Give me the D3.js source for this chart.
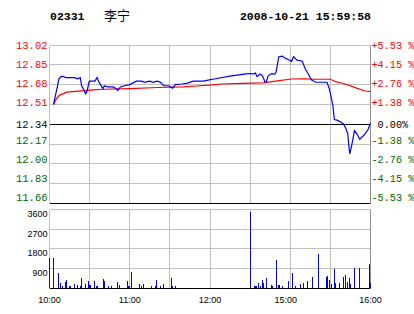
<!DOCTYPE html>
<html><head><meta charset="utf-8">
<script src="https://cdn.jsdelivr.net/npm/d3@7"></script>
<style>html,body{margin:0;padding:0;background:#fff;overflow:hidden}</style>
</head><body>
<svg id="c" width="414" height="314"></svg>
<script>
// ---- data ----
const stockCode = "02331";
const stockName = "李宁";
const stamp = "2008-10-21 15:59:58";
const preClose = 12.34;
const priceTicks = [13.02, 12.85, 12.68, 12.51, 12.34, 12.17, 12.00, 11.83, 11.66];
const pctLabels = ["+5.53 %", "+4.15 %", "+2.76 %", "+1.38 %", " 0.00%", "-1.38 %", "-2.76 %", "-4.15 %", "-5.53 %"];
const volTicks = [900, 1800, 2700, 3600];
const timeTicks = [0, 60, 120, 180, 240];          // trading minutes since 10:00
const timeLabels = ["10:00", "11:00", "12:00", "15:00", "16:00"];
const gridMinutes = [0, 30, 60, 90, 120, 150, 180, 210, 240];

// price line (trading minute, price)
const priceMin = [3,4.5,6,7,8.8,10,12,18.75,21,23,24,26,27,28,29.5,30,34,35.5,37.5,40,41,43.5,47.5,50,51,53,56,60,65,69,71,75,77.5,80.5,83,85.5,89,92,94,99,102.5,107.5,115,119.5,124,136,148.5,150.75,152,154,155,156,157,159,160,161,162,163.5,166,168.5,169.5,170.5,171.5,174,176.5,178.5,181,182.5,185,187.5,189,191,194,196,199,207.5,209,210,211,212,212.5,213,215,217.5,220,221.5,223,223.5,224.5,225.5,226.5,228,230,232,235,238,240];
const priceVal = [12.51,12.59,12.67,12.73,12.75,12.75,12.74,12.74,12.73,12.74,12.67,12.63,12.60,12.62,12.70,12.71,12.71,12.74,12.69,12.645,12.67,12.66,12.66,12.645,12.63,12.66,12.67,12.68,12.71,12.71,12.70,12.71,12.70,12.71,12.70,12.67,12.67,12.65,12.68,12.685,12.69,12.71,12.71,12.72,12.73,12.755,12.775,12.775,12.77,12.78,12.75,12.755,12.77,12.76,12.735,12.705,12.70,12.755,12.775,12.77,12.79,12.86,12.92,12.925,12.905,12.895,12.88,12.92,12.89,12.885,12.88,12.82,12.76,12.72,12.70,12.70,12.65,12.605,12.55,12.49,12.435,12.38,12.375,12.36,12.34,12.305,12.26,12.19,12.085,12.135,12.19,12.285,12.255,12.21,12.245,12.29,12.35];

// average price line
const avgMin = [3,5,7.5,10,13,17.5,28.7,32.5,40,60,81,100,110,119.5,129,144,160,169,181,191,199,210,214,217.5,223.5,230,236,240];
const avgVal = [12.51,12.555,12.59,12.60,12.615,12.62,12.63,12.635,12.64,12.645,12.655,12.66,12.668,12.675,12.685,12.69,12.695,12.71,12.728,12.73,12.726,12.726,12.705,12.696,12.677,12.648,12.625,12.62];

// volume bars
const volMin = [0,3,7,8,10,12,13,15,16,19,21,23,24,27,29,30,31,34,35,36,40,41,44,46,51,52,58,59,60,61,67,69,70,76,79,80,83,85,91,92,94,
  150,153,154,155,156,158,159,160,162,166,167,170,171,172,174,179,182,184,188,190,193,197,201,207,208,209,211,213,214,217,220,221,223,224,225,228,232,239,240];
const volVal = [1400,1400,700,240,105,290,380,105,105,195,150,105,470,195,335,150,150,335,105,105,425,335,105,105,290,150,335,105,105,745,195,105,195,105,105,380,105,195,470,105,105,
  3490,105,105,105,240,105,380,240,470,150,105,1290,150,150,105,335,700,105,195,240,335,515,1565,515,560,380,195,880,240,240,515,605,290,470,195,925,925,1110,240];

// ---- chart ----
const svg = d3.select("#c");
const x = d3.scaleLinear().domain([0, 240]).range([49.5, 370.5]);
const y = d3.scaleLinear().domain([11.66, 13.02]).range([203.4, 45]);
const yLab = d3.scaleLinear().domain([11.66, 13.02]).range([197.5, 45.2]);
const v = d3.scaleLinear().domain([0, 3600]).range([288.4, 209.3]);
const px = d => Math.floor(d) + 0.5;

const GRID = "#c0c0c0", RED = "#ff0000", GREEN = "#006400";
const mono = "'Liberation Mono', 'Courier New', monospace";
const sans = "'Liberation Sans', Arial, sans-serif";

// header
svg.append("text").attr("x", 50).attr("y", 20).attr("font-family", mono).attr("font-weight", "bold")
  .attr("font-size", 11.5).attr("fill", "#000").text(stockCode);
svg.append("text").attr("x", 104).attr("y", 20).attr("font-family", "'Noto Sans CJK SC', sans-serif")
  .attr("font-size", 13).attr("fill", "#000").text(stockName);
svg.append("text").attr("x", 371).attr("y", 20).attr("text-anchor", "end").attr("font-family", mono).attr("font-weight", "bold")
  .attr("font-size", 11.5).attr("fill", "#000").text(stamp);

// price panel grid
const g = svg.append("g").attr("shape-rendering", "crispEdges");
g.selectAll(".vgp").data(gridMinutes).join("line")
  .attr("x1", d => px(x(d))).attr("x2", d => px(x(d)))
  .attr("y1", px(y(13.02))).attr("y2", px(y(11.66)))
  .attr("stroke", GRID);
g.selectAll(".hgp").data(priceTicks).join("line")
  .attr("x1", px(x(0))).attr("x2", px(x(240)))
  .attr("y1", d => px(y(d))).attr("y2", d => px(y(d)))
  .attr("stroke", d => (d === preClose || d === 11.66) ? "#000" : GRID);
// volume grid
g.selectAll(".vgv").data(gridMinutes).join("line")
  .attr("x1", d => px(x(d))).attr("x2", d => px(x(d)))
  .attr("y1", px(v(3600))).attr("y2", px(v(0)))
  .attr("stroke", GRID);
g.selectAll(".hgv").data([0].concat(volTicks)).join("line")
  .attr("x1", px(x(0))).attr("x2", px(x(240)))
  .attr("y1", d => px(v(d))).attr("y2", d => px(v(d)))
  .attr("stroke", d => d === 0 ? "#000" : GRID);
// right borders
g.append("line").attr("x1", px(x(240))).attr("x2", px(x(240))).attr("y1", px(y(13.02))).attr("y2", px(y(11.66))).attr("stroke", "#909090");
g.append("line").attr("x1", px(x(240))).attr("x2", px(x(240))).attr("y1", px(v(3600))).attr("y2", px(v(0))).attr("stroke", "#909090");

// price labels
svg.selectAll(".pl").data(priceTicks).join("text")
  .attr("x", 47.5).attr("y", d => d === preClose ? y(d) : yLab(d)).attr("dy", "0.35em")
  .attr("text-anchor", "end").attr("font-family", mono).attr("font-size", 10.5)
  .attr("fill", d => d > preClose ? RED : d < preClose ? GREEN : "#000")
  .text(d => d.toFixed(2));
svg.selectAll(".pr").data(priceTicks).join("text")
  .attr("x", 371.5).attr("y", d => d === preClose ? y(d) : yLab(d)).attr("dy", "0.35em")
  .attr("font-family", mono).attr("font-size", 10.2).style("white-space", "pre")
  .attr("fill", d => d > preClose ? RED : d < preClose ? GREEN : "#000")
  .text((d, i) => pctLabels[i]);

// volume labels
svg.selectAll(".vl").data(volTicks).join("text")
  .attr("x", 47.5).attr("y", d => v(d) + 7.6)
  .attr("text-anchor", "end").attr("font-family", sans).attr("font-size", 9)
  .attr("fill", "#000").text(d => d);

// time labels
svg.selectAll(".tl").data(timeTicks).join("text")
  .attr("x", (d, i) => x(d) + (d === 180 ? -4.5 : 0)).attr("y", 302.5)
  .attr("text-anchor", "middle").attr("font-family", sans).attr("font-size", 9)
  .attr("fill", "#000").text((d, i) => timeLabels[i]);

// volume bars
svg.append("g").attr("shape-rendering", "crispEdges").selectAll("rect").data(volMin.map((m, i) => [m, volVal[i]])).join("rect")
  .attr("x", d => Math.floor(x(d[0]))).attr("width", 1)
  .attr("y", d => Math.round(v(d[1]))).attr("height", d => Math.floor(v(0)) - Math.round(v(d[1])))
  .attr("fill", "#0000ff");

// lines
const line = d3.line().x(d => x(d[0])).y(d => y(d[1]));
svg.append("path").datum(avgMin.map((m, i) => [m, avgVal[i]]))
  .attr("d", line).attr("fill", "none").attr("stroke", RED).attr("stroke-width", 1.2);
svg.append("path").datum(priceMin.map((m, i) => [m, priceVal[i]]))
  .attr("d", line).attr("fill", "none").attr("stroke", "#0000ff").attr("stroke-width", 1.2);
</script>
</body></html>
